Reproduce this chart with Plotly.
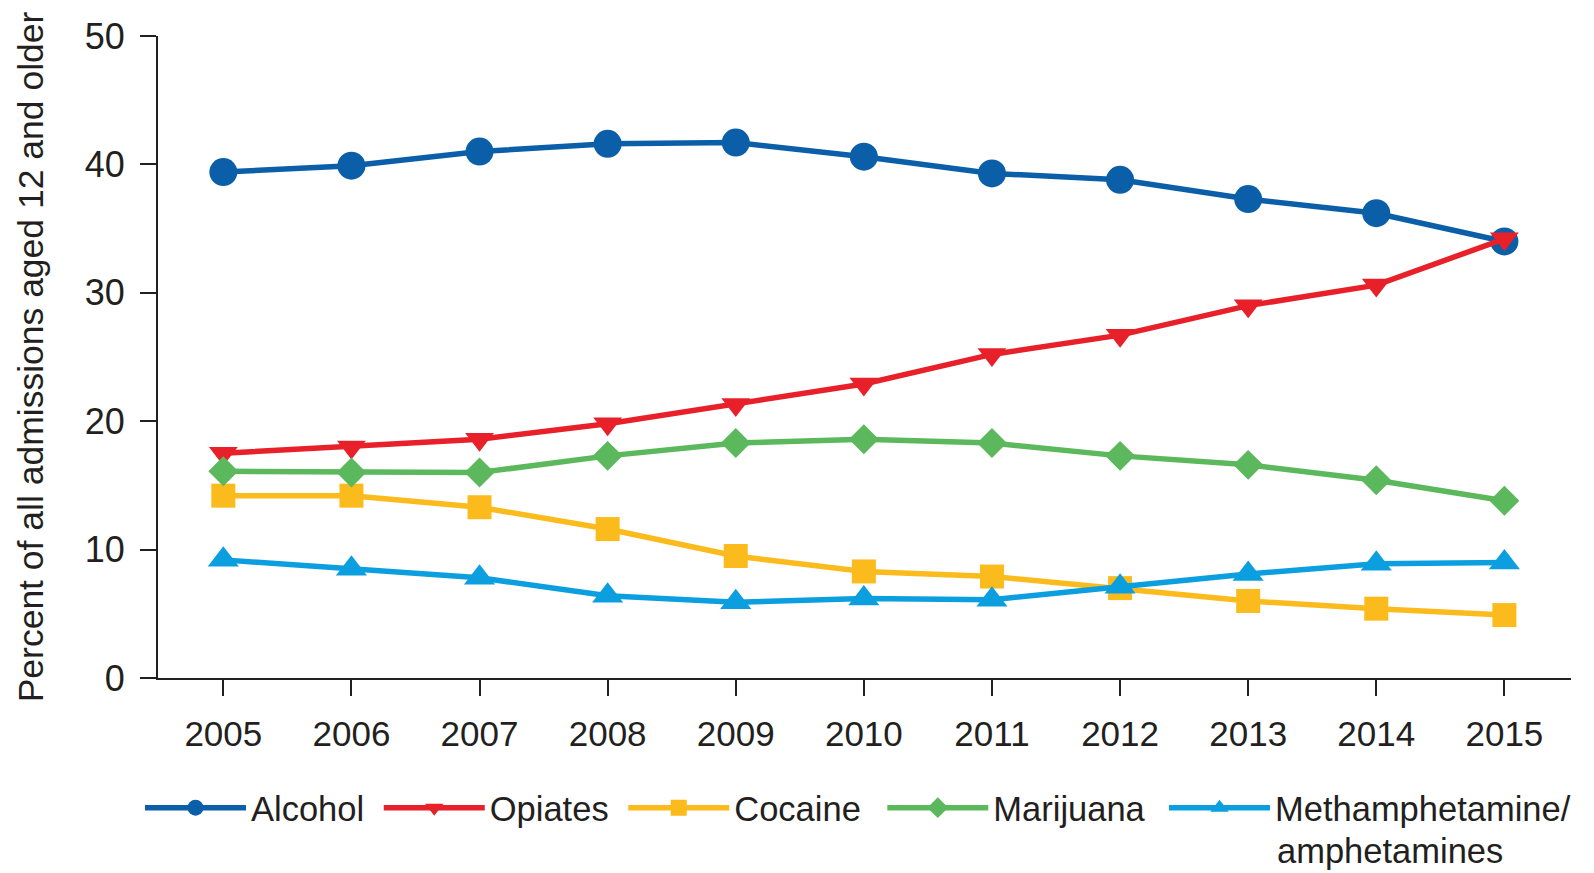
import plotly.graph_objects as go

years = [2005, 2006, 2007, 2008, 2009, 2010, 2011, 2012, 2013, 2014, 2015]
alcohol = [39.4, 39.9, 41.0, 41.6, 41.7, 40.6, 39.3, 38.8, 37.3, 36.2, 34.0]
opiates = [17.5, 18.0, 18.6, 19.8, 21.3, 22.9, 25.2, 26.7, 29.0, 30.6, 34.2]
cocaine = [14.2, 14.2, 13.3, 11.6, 9.5, 8.3, 7.9, 7.0, 6.0, 5.4, 4.9]
marijuana = [16.1, 16.0, 16.0, 17.3, 18.3, 18.6, 18.3, 17.3, 16.6, 15.4, 13.8]
meth = [9.2, 8.5, 7.8, 6.4, 5.9, 6.2, 6.1, 7.1, 8.1, 8.9, 9.0]

NB = "\u00a0"
series = [
    ("Alcohol" + NB, alcohol, "#0b5fa8", "circle", 28, "legend"),
    ("Opiates" + NB, opiates, "#e8202a", "triangle-down", 25, "legend"),
    ("Cocaine" + NB + "\u2009", cocaine, "#fbbb1c", "square", 24, "legend"),
    ("Marijuana" + NB, marijuana, "#5cb85c", "diamond", 23, "legend"),
    ("Methamphetamine/", meth, "#0c9fe0", "triangle-up", 27, "legend2"),
]
meth_line2 = "amphetamines"

FONT = "Liberation Sans, Arial, sans-serif"
LFS = 34.5
fig = go.Figure()
for name, vals, col, sym, sz, lg in series:
    fig.add_trace(go.Scatter(
        x=years, y=vals, name=name, mode="lines+markers",
        line=dict(color=col, width=5.5),
        marker=dict(color=col, symbol=sym, size=sz, line=dict(width=0)),
        cliponaxis=False, legend=lg,
    ))

legend_common = dict(orientation="h", xref="container", yref="container",
                     y=0.108, xanchor="left", yanchor="top",
                     font=dict(size=LFS, family=FONT, color="#231f20"),
                     itemwidth=101, valign="top", traceorder="normal",
                     itemclick=False, bgcolor="rgba(0,0,0,0)")

fig.update_layout(
    width=1594, height=873,
    margin=dict(l=158, r=23, t=36, b=195),
    paper_bgcolor="white", plot_bgcolor="white",
    font=dict(family=FONT, size=35, color="#231f20"),
    showlegend=True,
    legend=dict(x=140 / 1594, **legend_common),
    legend2=dict(x=1164 / 1594, **legend_common),
    annotations=[dict(text=meth_line2, xref="paper", yref="paper",
                      x=(1275 - 158) / 1413, y=-(851 - 678) / 642,
                      xanchor="left", yanchor="middle", showarrow=False,
                      font=dict(size=LFS, family=FONT, color="#231f20"))],
    xaxis=dict(range=[2004.49, 2015.52], tickmode="array", tickvals=years,
               ticktext=[str(y) for y in years],
               showline=True, linecolor="#231f20", linewidth=2,
               ticks="outside", ticklen=16, tickwidth=2, tickcolor="#231f20",
               showgrid=False, zeroline=False, ticklabelstandoff=8,
               tickfont=dict(size=35)),
    yaxis=dict(range=[0, 50], tickvals=[0, 10, 20, 30, 40, 50],
               showline=True, linecolor="#231f20", linewidth=2,
               ticks="outside", ticklen=16, tickwidth=2, tickcolor="#231f20",
               showgrid=False, zeroline=False, ticklabelstandoff=8,
               tickfont=dict(size=36),
               title=dict(text="Percent of all admissions aged 12 and older",
                          font=dict(size=35.5), standoff=30)),
)
fig.write_html("out.html")
